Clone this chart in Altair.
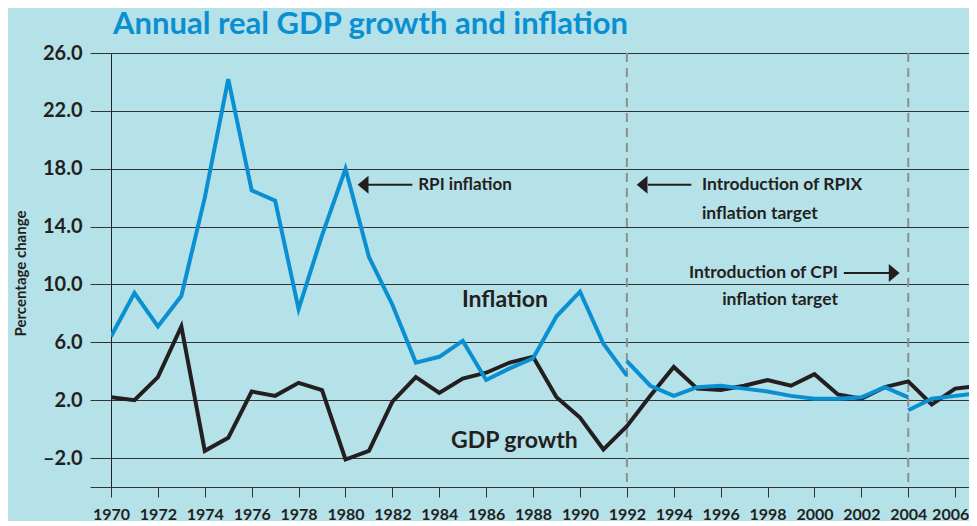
import altair as alt
import pandas as pd

# ---------------- data ----------------
years = list(range(1970, 2008))
gdp_growth = [2.2, 2.0, 3.6, 7.1, -1.5, -0.6, 2.6, 2.3, 3.2, 2.7,
              -2.1, -1.5, 1.9, 3.6, 2.5, 3.5, 3.9, 4.6, 5.0, 2.2,
              0.8, -1.4, 0.2, 2.3, 4.3, 2.8, 2.7, 3.0, 3.4, 3.0,
              3.8, 2.4, 2.1, 2.9, 3.3, 1.7, 2.8, 3.0]

rpi_years = list(range(1970, 1993))
rpi = [6.4, 9.4, 7.1, 9.2, 16.0, 24.2, 16.5, 15.8, 8.3, 13.4,
       18.0, 11.9, 8.6, 4.6, 5.0, 6.1, 3.4, 4.2, 4.9, 7.8,
       9.5, 5.9, 3.7]
rpix_years = list(range(1992, 2005))
rpix = [4.7, 3.0, 2.3, 2.9, 3.0, 2.8, 2.6, 2.3, 2.1, 2.1, 2.2, 2.9, 2.2]
cpi_years = list(range(2004, 2008))
cpi = [1.3, 2.1, 2.3, 2.5]

target_years = [1992, 2004]

y_ticks = [-4, -2, 2, 6, 10, 14, 18, 22, 26]
x_ticks = list(range(1970, 2007, 2))

# annotations
left_texts = ["RPI inflation", "Introduction of RPIX", "inflation target"]
left_x = [1983.1, 1995.2, 1995.2]
left_y = [16.85, 16.85, 14.9]
left_size = [17, 17.5, 17.5]

center_texts = ["Inflation", "GDP growth"]
center_x = [1986.8, 1987.2]
center_y = [8.9, -0.85]
center_size = [23, 23]

right_texts = ["Introduction of CPI", "inflation target"]
right_x = [2001.0, 2001.0]
right_y = [10.8, 8.9]
right_size = [17.5, 17.5]

arrow_x = [1980.95, 1992.9, 2001.25]
arrow_x2 = [1982.85, 1994.75, 2003.2]
arrow_y = [16.9, 16.9, 10.8]

head_left_x = [1980.75, 1992.65]
head_left_y = [16.9, 16.9]
head_right_x = [2003.4]
head_right_y = [10.8]

# ---------------- styling ----------------
FONT = "Lato"
BG = "#b5e1e8"
BLUE = "#0a8fd2"
DARK = "#231f20"
X_DOMAIN = [1970, 2006.59]
Y_DOMAIN = [-4, 26]

gdp_df = pd.DataFrame({"year": years, "value": gdp_growth})
infl_df = pd.concat([
    pd.DataFrame({"year": rpi_years, "value": rpi, "seg": "RPI"}),
    pd.DataFrame({"year": rpix_years, "value": rpix, "seg": "RPIX"}),
    pd.DataFrame({"year": cpi_years, "value": cpi, "seg": "CPI"}),
])

xs = alt.Scale(domain=X_DOMAIN, nice=False, zero=False)
ys = alt.Scale(domain=Y_DOMAIN, nice=False, zero=False)

y_label_expr = ("datum.value == -4 ? '' : (datum.value < 0 ? '\u2013' + format(abs(datum.value), '.1f') "
                ": format(datum.value, '.1f'))")

x_axis = alt.Axis(values=x_ticks, format="d", title=None, grid=False,
                  tickSize=10, tickColor="#333333", domainColor="#333333",
                  labelFont=FONT, labelFontWeight="bold", labelFontSize=16,
                  labelColor=DARK, labelPadding=9, labelFlush=False,
                  labelOffset={"condition": {"test": "datum.value == 2006", "value": -5}, "value": 0})
y_axis = alt.Axis(values=y_ticks, labelExpr=y_label_expr, title="Percentage change",
                  grid=True, gridColor="#333333", gridWidth=1,
                  tickSize=21, tickColor="#333333", domainColor="#222222",
                  labelFont=FONT, labelFontWeight="bold", labelFontSize=20,
                  labelColor=DARK, labelPadding=8,
                  titleFont=FONT, titleFontWeight="bold", titleFontSize=15,
                  titleColor=DARK, titleAngle=270, titleX=-91, titleY=220,
                  titleAlign="center", titleBaseline="middle")

base_gdp = alt.Chart(gdp_df)

gdp_line = base_gdp.mark_line(color=DARK, strokeWidth=4, clip=True, strokeJoin="miter").encode(
    x=alt.X("year:Q", scale=xs, axis=x_axis),
    y=alt.Y("value:Q", scale=ys, axis=y_axis),
)

infl_line = alt.Chart(infl_df).mark_line(color=BLUE, strokeWidth=4, clip=True).encode(
    x=alt.X("year:Q", scale=xs),
    y=alt.Y("value:Q", scale=ys),
    detail="seg:N",
)

rules = alt.Chart(pd.DataFrame({"year": target_years})).mark_rule(
    color="#8f8f8f", strokeWidth=2, strokeDash=[9, 6]
).encode(x=alt.X("year:Q", scale=xs))

def text_layer(texts, xv, yv, sizes, align):
    df = pd.DataFrame({"text": texts, "year": xv, "value": yv, "size": sizes})
    return alt.Chart(df).mark_text(
        align=align, baseline="middle", font=FONT, fontWeight="bold", color=DARK
    ).encode(
        x=alt.X("year:Q", scale=xs),
        y=alt.Y("value:Q", scale=ys),
        text="text:N",
        size=alt.Size("size:Q", scale=None),
    )

t_left = text_layer(left_texts, left_x, left_y, left_size, "left")
t_center = text_layer(center_texts, center_x, center_y, center_size, "center")
t_right = text_layer(right_texts, right_x, right_y, right_size, "right")

arrows = alt.Chart(pd.DataFrame({"x": arrow_x, "x2": arrow_x2, "y": arrow_y})).mark_rule(
    color=DARK, strokeWidth=2
).encode(
    x=alt.X("x:Q", scale=xs), x2="x2:Q", y=alt.Y("y:Q", scale=ys)
)

heads_left = alt.Chart(pd.DataFrame({"x": head_left_x, "y": head_left_y})).mark_point(
    shape="M-0.6,0L0.6,-1L0.6,1Z", filled=True, color=DARK, opacity=1, size=324
).encode(x=alt.X("x:Q", scale=xs), y=alt.Y("y:Q", scale=ys))

heads_right = alt.Chart(pd.DataFrame({"x": head_right_x, "y": head_right_y})).mark_point(
    shape="M0.6,0L-0.6,-1L-0.6,1Z", filled=True, color=DARK, opacity=1, size=324
).encode(x=alt.X("x:Q", scale=xs), y=alt.Y("y:Q", scale=ys))

chart = alt.layer(
    rules, gdp_line, infl_line, arrows, heads_left, heads_right, t_left, t_center, t_right
).properties(
    width=858,
    height=434,
    title=alt.Title("Annual real GDP growth and inflation", anchor="start", frame="group",
                    font=FONT, fontSize=31, fontWeight="bold", color=BLUE, offset=0, dx=2, dy=-2),
    autosize=alt.AutoSizeParams(type="none"),
    padding={"left": 103, "top": 45, "right": 0, "bottom": 34},
    background=BG,
).configure_view(stroke=None)

chart.save("out.html", embed_options={"renderer": "svg", "actions": False})
